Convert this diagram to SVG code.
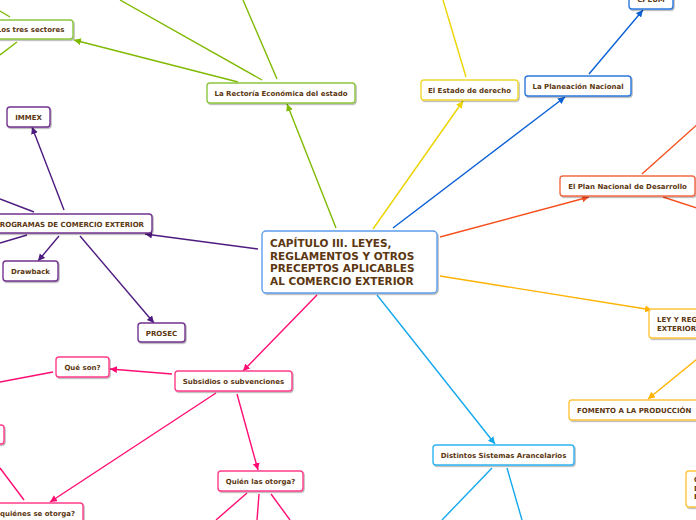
<svg xmlns="http://www.w3.org/2000/svg" width="696" height="520" viewBox="0 0 696 520">
<defs>
<filter id="sh" x="-10%" y="-20%" width="130%" height="160%"><feDropShadow dx="1" dy="1.2" stdDeviation="0.7" flood-color="#000" flood-opacity="0.3"/></filter>
<marker id="mG" markerUnits="userSpaceOnUse" markerWidth="8" markerHeight="8" refX="7" refY="3.5" orient="auto"><path d="M0,0 L7,3.5 L0,7 z" fill="#7fba00"/></marker>
<marker id="mY" markerUnits="userSpaceOnUse" markerWidth="8" markerHeight="8" refX="7" refY="3.5" orient="auto"><path d="M0,0 L7,3.5 L0,7 z" fill="#ecd400"/></marker>
<marker id="mB" markerUnits="userSpaceOnUse" markerWidth="8" markerHeight="8" refX="7" refY="3.5" orient="auto"><path d="M0,0 L7,3.5 L0,7 z" fill="#0a60d6"/></marker>
<marker id="mR" markerUnits="userSpaceOnUse" markerWidth="8" markerHeight="8" refX="7" refY="3.5" orient="auto"><path d="M0,0 L7,3.5 L0,7 z" fill="#f4511e"/></marker>
<marker id="mO" markerUnits="userSpaceOnUse" markerWidth="8" markerHeight="8" refX="7" refY="3.5" orient="auto"><path d="M0,0 L7,3.5 L0,7 z" fill="#ffb300"/></marker>
<marker id="mC" markerUnits="userSpaceOnUse" markerWidth="8" markerHeight="8" refX="7" refY="3.5" orient="auto"><path d="M0,0 L7,3.5 L0,7 z" fill="#14a8ec"/></marker>
<marker id="mP" markerUnits="userSpaceOnUse" markerWidth="8" markerHeight="8" refX="7" refY="3.5" orient="auto"><path d="M0,0 L7,3.5 L0,7 z" fill="#ff0d72"/></marker>
<marker id="mV" markerUnits="userSpaceOnUse" markerWidth="8" markerHeight="8" refX="7" refY="3.5" orient="auto"><path d="M0,0 L7,3.5 L0,7 z" fill="#4d1a7f"/></marker>
</defs>
<style>
.t{font-family:"DejaVu Sans",Verdana,sans-serif;font-weight:bold;font-size:7px;fill:#5c3711}
.c{text-anchor:middle}
.big{font-size:10.5px}
.box{fill:#fff;stroke-width:1.4;filter:url(#sh)}
.ln{fill:none;stroke-width:1.4}
.g{stroke:#7fba00}.y{stroke:#ecd400}.b{stroke:#0a60d6}.r{stroke:#f4511e}.o{stroke:#ffb300}.cy{stroke:#14a8ec}.p{stroke:#ff0d72}.v{stroke:#4d1a7f}
.bg{stroke:#8cc63f}.by{stroke:#f0d830}.bb{stroke:#2c78dc}.br{stroke:#f26a45}.bo{stroke:#ffc43d}.bc{stroke:#2eb4f2}.bp{stroke:#ff3d8a}.bv{stroke:#73338f}
</style>
<rect width="696" height="520" fill="#fff"/>
<g id="connectors">
<line class="ln g" x1="336" y1="228" x2="287" y2="104" marker-end="url(#mG)"/>
<line class="ln g" x1="238" y1="82" x2="74" y2="40" marker-end="url(#mG)"/>
<line class="ln g" x1="262" y1="80" x2="120" y2="0"/>
<line class="ln g" x1="277" y1="79" x2="243" y2="0"/>
<line class="ln g" x1="10" y1="17" x2="0" y2="11"/>
<line class="ln g" x1="17" y1="42" x2="0" y2="55"/>
<line class="ln y" x1="373" y1="229" x2="463" y2="101" marker-end="url(#mY)"/>
<line class="ln y" x1="466" y1="77" x2="443" y2="0"/>
<line class="ln b" x1="393" y1="228" x2="565" y2="97" marker-end="url(#mB)"/>
<line class="ln b" x1="589" y1="74" x2="643" y2="10" marker-end="url(#mB)"/>
<line class="ln r" x1="440" y1="237" x2="589" y2="197" marker-end="url(#mR)"/>
<line class="ln r" x1="642" y1="174" x2="700" y2="122"/>
<line class="ln r" x1="663" y1="197" x2="700" y2="209"/>
<line class="ln o" x1="440" y1="276" x2="652" y2="310" marker-end="url(#mO)"/>
<line class="ln o" x1="697" y1="359" x2="648" y2="399" marker-end="url(#mO)"/>
<line class="ln cy" x1="377" y1="295" x2="495" y2="444" marker-end="url(#mC)"/>
<line class="ln cy" x1="492" y1="468" x2="442" y2="520"/>
<line class="ln cy" x1="507" y1="468" x2="522" y2="520"/>
<line class="ln p" x1="317" y1="295" x2="243" y2="371" marker-end="url(#mP)"/>
<line class="ln p" x1="172" y1="374" x2="110" y2="369" marker-end="url(#mP)"/>
<line class="ln p" x1="53" y1="372" x2="0" y2="382"/>
<line class="ln p" x1="237" y1="394" x2="258" y2="470" marker-end="url(#mP)"/>
<line class="ln p" x1="216" y1="393" x2="50" y2="502" marker-end="url(#mP)"/>
<line class="ln p" x1="24" y1="500" x2="0" y2="468"/>
<line class="ln p" x1="247" y1="493" x2="216" y2="520"/>
<line class="ln p" x1="259" y1="494" x2="257" y2="520"/>
<line class="ln p" x1="271" y1="494" x2="290" y2="520"/>
<line class="ln v" x1="258" y1="249" x2="145" y2="234" marker-end="url(#mV)"/>
<line class="ln v" x1="64" y1="210" x2="32" y2="127" marker-end="url(#mV)"/>
<line class="ln v" x1="59" y1="236" x2="38" y2="261" marker-end="url(#mV)"/>
<line class="ln v" x1="80" y1="236" x2="154" y2="323" marker-end="url(#mV)"/>
<line class="ln v" x1="34" y1="212" x2="0" y2="199"/>
<line class="ln v" x1="27" y1="235" x2="0" y2="243"/>
</g>
<g id="central">
<rect x="262" y="231" width="175" height="62" rx="4" fill="#fff" stroke="#5d9ded" stroke-width="1.4" filter="url(#sh)"/>
<text class="t big" x="270" y="247">CAPÍTULO III. LEYES,</text>
<text class="t big" x="270" y="259.5">REGLAMENTOS Y OTROS</text>
<text class="t big" x="270" y="272">PRECEPTOS APLICABLES</text>
<text class="t big" x="270" y="284.5">AL COMERCIO EXTERIOR</text>
</g>
<g id="rectoria"><rect class="box bg" x="207" y="83" width="148" height="20" rx="3"/><text class="t c" x="281" y="95.5">La Rectoría Económica del estado</text></g>
<g id="sectores"><rect class="box bg" x="-13" y="20" width="86" height="19" rx="3"/><text class="t c" x="30.5" y="32">Los tres sectores</text></g>
<g id="estado"><rect class="box by" x="421" y="80" width="97" height="20" rx="3"/><text class="t c" x="469.5" y="93">El Estado de derecho</text></g>
<g id="planeacion"><rect class="box bb" x="525" y="76" width="106" height="20" rx="3"/><text class="t c" x="578" y="89">La Planeación Nacional</text></g>
<g id="cpeum"><rect class="box bb" x="629" y="-11" width="44" height="20" rx="3"/><text class="t c" x="651" y="2">CPEUM</text></g>
<g id="plan"><rect class="box br" x="560" y="176" width="135" height="20" rx="3"/><text class="t c" x="627.5" y="189">El Plan Nacional de Desarrollo</text></g>
<g id="ley"><rect class="box bo" x="649" y="309" width="130" height="29" rx="3"/><text class="t" x="657" y="322">LEY Y REGLAMENTO DE COMERCIO</text><text class="t" x="657" y="331">EXTERIOR</text></g>
<g id="fomento"><rect class="box bo" x="569" y="400" width="130" height="20" rx="3"/><text class="t" x="577" y="413">FOMENTO A LA PRODUCCIÓN</text></g>
<g id="otro"><rect class="box bo" x="686" y="471" width="100" height="36" rx="3"/><text class="t" x="694" y="482">C</text><text class="t" x="694" y="490.5">D</text><text class="t" x="694" y="499">E</text></g>
<g id="distintos"><rect class="box bc" x="433" y="445" width="141" height="20" rx="3"/><text class="t c" x="503.5" y="458">Distintos Sistemas Arancelarios</text></g>
<g id="subsidios"><rect class="box bp" x="175" y="371" width="117" height="20" rx="3"/><text class="t c" x="233.5" y="383.5">Subsidios o subvenciones</text></g>
<g id="queson"><rect class="box bp" x="56" y="357" width="53" height="20" rx="3"/><text class="t c" x="82.5" y="369.5">Qué son?</text></g>
<g id="quien"><rect class="box bp" x="218" y="471" width="85" height="20" rx="3"/><text class="t c" x="260.5" y="483.5">Quién las otorga?</text></g>
<g id="aquienes"><rect class="box bp" x="-20" y="503" width="103" height="20" rx="3"/><text class="t" x="75" y="516" text-anchor="end">A quiénes se otorga?</text></g>
<g id="pinkleft"><rect class="box bp" x="-40" y="425" width="44" height="19" rx="3"/></g>
<g id="programas"><rect class="box bv" x="-20" y="214" width="172" height="19" rx="3"/><text class="t" x="144" y="226.5" text-anchor="end">PROGRAMAS DE COMERCIO EXTERIOR</text></g>
<g id="immex"><rect class="box bv" x="7" y="107" width="43" height="20" rx="3"/><text class="t c" x="28.5" y="120">IMMEX</text></g>
<g id="drawback"><rect class="box bv" x="3" y="261" width="55" height="20" rx="3"/><text class="t c" x="30.5" y="274">Drawback</text></g>
<g id="prosec"><rect class="box bv" x="138" y="323" width="47" height="19" rx="3"/><text class="t c" x="161.5" y="335.5">PROSEC</text></g>
</svg>
